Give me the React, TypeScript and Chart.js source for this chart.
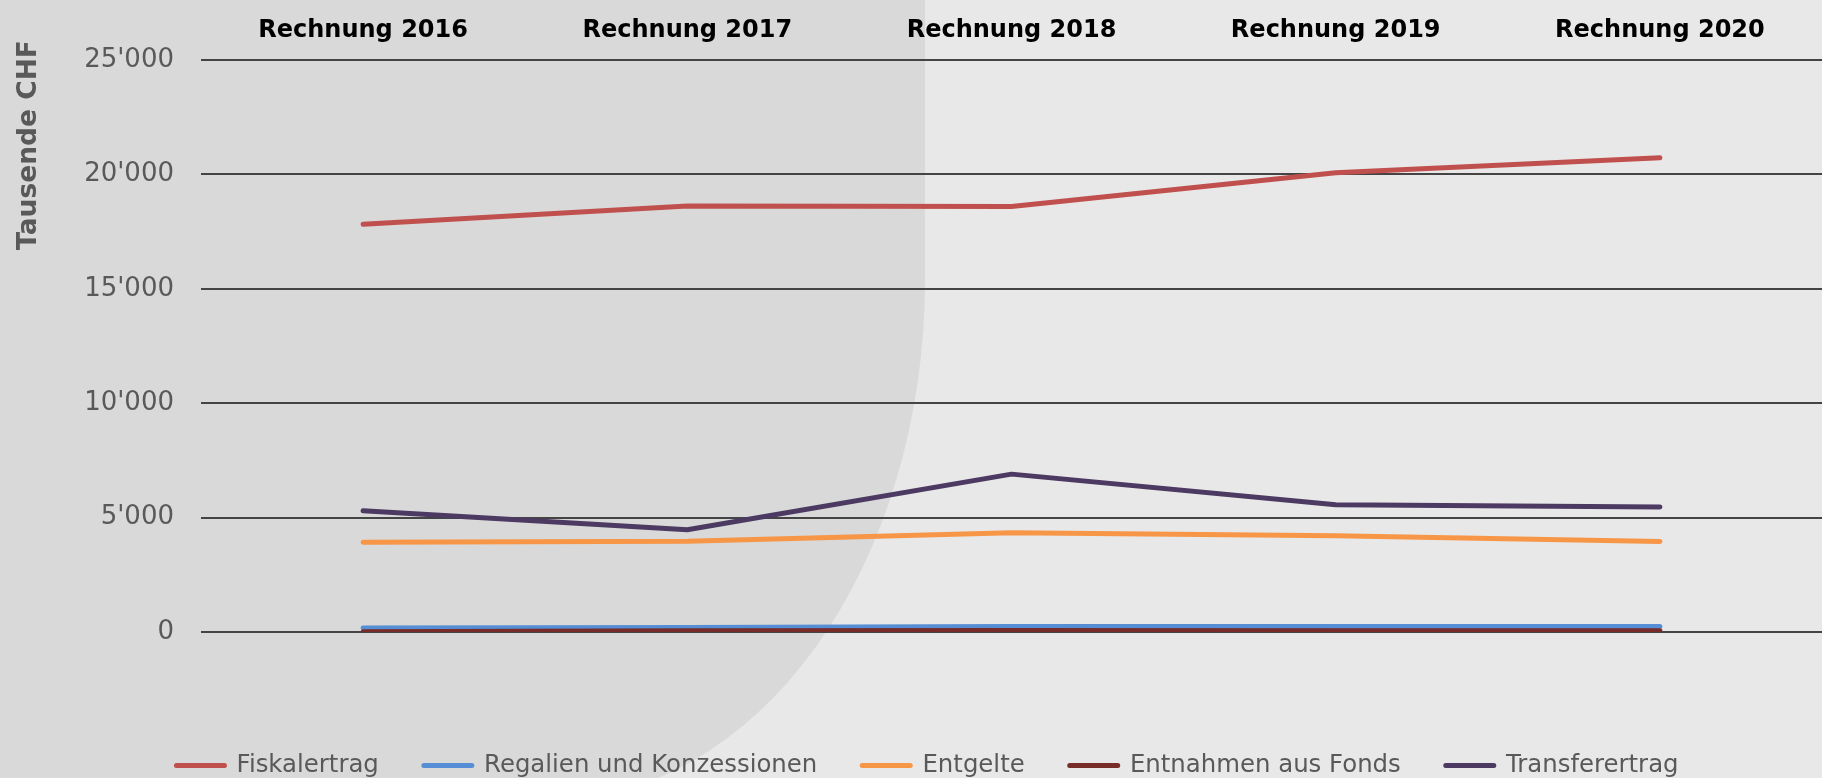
import React, { useEffect, useRef } from 'react';
import { Chart, registerables } from 'chart.js';

Chart.register(...registerables);

const categories = ['Rechnung 2016', 'Rechnung 2017', 'Rechnung 2018', 'Rechnung 2019', 'Rechnung 2020'];
const fiskalertrag = [17820, 18620, 18600, 20070, 20730];
const regalien = [170, 200, 240, 240, 240];
const entgelte = [3920, 3970, 4340, 4210, 3960];
const entnahmen = [10, 60, 70, 50, 50];
const transferertrag = [5300, 4470, 6900, 5560, 5460];
const seriesNames = ['Fiskalertrag', 'Regalien und Konzessionen', 'Entgelte', 'Entnahmen aus Fonds', 'Transferertrag'];
const seriesColors = ['#C0504D', '#558ED5', '#F79646', '#772C2A', '#4D3A62'];
const seriesValues = [fiskalertrag, regalien, entgelte, entnahmen, transferertrag];
const yMin = 0;
const yMax = 25000;
const yStep = 5000;
const yTitle = 'Tausende CHF';

const FONT = "'DejaVu Sans', Verdana, sans-serif";

function fmt(v: number): string {
  return String(v).replace(/\B(?=(\d{3})+(?!\d))/g, "'");
}

const bgPlugin = {
  id: 'bgShape',
  beforeDraw(chart: any) {
    const { ctx, width, height } = chart;
    ctx.save();
    ctx.fillStyle = '#e8e8e8';
    ctx.fillRect(0, 0, width, height);
    ctx.fillStyle = '#d9d9d9';
    ctx.beginPath();
    ctx.moveTo(0, 0);
    ctx.lineTo(925, 0);
    ctx.lineTo(925, 280);
    ctx.ellipse(550, 280, 375, 520, 0, 0, Math.PI / 2);
    ctx.lineTo(0, 800);
    ctx.closePath();
    ctx.fill();
    ctx.restore();
  },
};

const yTitlePlugin = {
  id: 'yTitle',
  afterDraw(chart: any) {
    const { ctx } = chart;
    ctx.save();
    ctx.translate(29, 145);
    ctx.rotate(-Math.PI / 2);
    ctx.font = `bold 26.5px ${FONT}`;
    ctx.fillStyle = '#595959';
    ctx.textAlign = 'center';
    ctx.textBaseline = 'middle';
    ctx.fillText(yTitle, 0, 0);
    ctx.restore();
  },
};

export default function App() {
  const ref = useRef<HTMLCanvasElement>(null);

  useEffect(() => {
    document.body.style.margin = '0';
    document.body.style.overflow = 'hidden';
    const canvas = ref.current!;
    const chart = new Chart(canvas, {
      type: 'line',
      data: {
        labels: categories,
        datasets: seriesNames.map((name, i) => ({
          label: name,
          data: seriesValues[i],
          borderColor: seriesColors[i],
          backgroundColor: seriesColors[i],
          borderWidth: 5,
          borderCapStyle: 'round',
          borderJoinStyle: 'round',
          pointRadius: 0,
          pointHoverRadius: 0,
          tension: 0,
          fill: false,
          order: seriesNames.length - i,
        })),
      },
      options: {
        animation: false,
        responsive: false,
        devicePixelRatio: 1,
        layout: { padding: { left: 24, right: -9, top: 0, bottom: 0 } },
        plugins: {
          tooltip: { enabled: false },
          legend: {
            position: 'bottom',
            maxHeight: 146,
            title: { display: true, text: '', padding: 31, font: { size: 12 } },
            labels: {
              usePointStyle: true,
              pointStyleWidth: 48,
              padding: 45,
              color: '#595959',
              font: { family: FONT, size: 24.4 },
              generateLabels: (c: any) =>
                c.data.datasets.map((ds: any, i: number) => ({
                  text: ds.label,
                  fillStyle: ds.borderColor,
                  strokeStyle: ds.borderColor,
                  lineWidth: 5,
                  lineCap: 'round',
                  pointStyle: 'line',
                  hidden: false,
                  fontColor: '#595959',
                  datasetIndex: i,
                })),
            },
          },
        },
        scales: {
          x: {
            type: 'category',
            position: 'top',
            offset: true,
            grid: { display: false, drawTicks: false },
            border: { display: false },
            ticks: {
              color: '#000000',
              padding: 15,
              maxRotation: 0,
              autoSkip: false,
              font: { family: FONT, size: 24, weight: 'bold' },
            },
            afterFit: (s: any) => {
              s.height = 60;
            },
          },
          y: {
            type: 'linear',
            min: yMin,
            max: yMax,
            grid: { color: '#444444', lineWidth: 2, drawTicks: false },
            border: { display: false },
            ticks: {
              stepSize: yStep,
              color: '#595959',
              padding: 27,
              font: { family: FONT, size: 26 },
              callback: (v: any) => fmt(Number(v)),
            },
            afterFit: (s: any) => {
              s.width = 177;
            },
          },
        },
      },
      plugins: [bgPlugin, yTitlePlugin],
    } as any);
    return () => chart.destroy();
  }, []);

  return (
    <canvas
      ref={ref}
      width={1822}
      height={778}
      style={{ display: 'block', width: 1822, height: 778 }}
    />
  );
}
